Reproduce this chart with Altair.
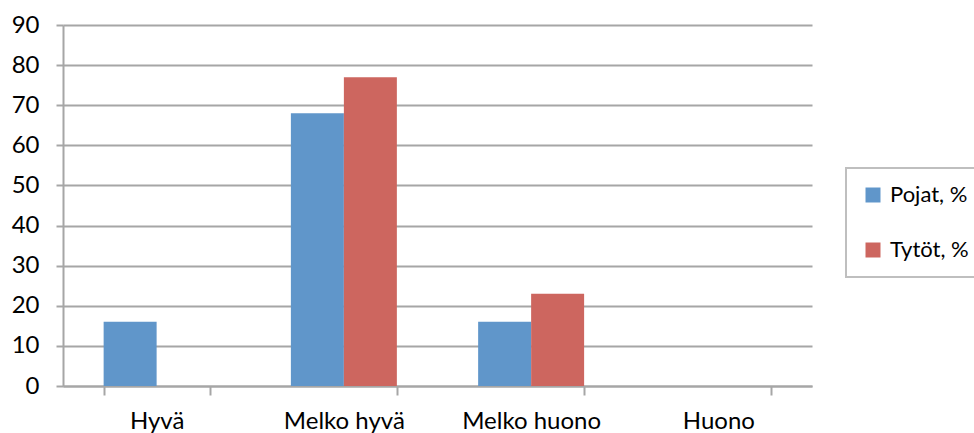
import altair as alt
import pandas as pd

categories = ["Hyvä", "Melko hyvä", "Melko huono", "Huono"]
series = ["Pojat, %", "Tytöt, %"]
pojat = [16, 68, 16, 0]
tytot = [0, 77, 23, 0]
y_ticks = [0, 10, 20, 30, 40, 50, 60, 70, 80, 90]

rows = []
for c, p, t in zip(categories, pojat, tytot):
    rows.append({"cat": c, "series": series[0], "value": p})
    rows.append({"cat": c, "series": series[1], "value": t})
df = pd.DataFrame(rows)

FONT = "Lato"
GRID = "#A6A6A6"
FS = 24

chart = alt.Chart(df).mark_bar().encode(
    x=alt.X("cat:N", sort=categories, title=None,
            scale=alt.Scale(paddingInner=0.434, paddingOuter=0.217),
            axis=alt.Axis(labelAngle=0, tickBand="extent", tickSize=9,
                          tickColor=GRID, tickWidth=2, domainColor=GRID, domainWidth=2,
                          labelFont=FONT, labelFontSize=FS, labelColor="#000000",
                          labelPadding=14, grid=False)),
    xOffset=alt.XOffset("series:N", sort=series, scale=alt.Scale(paddingInner=0, paddingOuter=0)),
    y=alt.Y("value:Q", title=None,
            scale=alt.Scale(domain=[0, 90], nice=False),
            axis=alt.Axis(values=y_ticks, tickSize=7, tickColor=GRID, tickWidth=2,
                          domainColor=GRID, domainWidth=2, gridColor=GRID, gridWidth=2,
                          labelFont=FONT, labelFontSize=FS, labelColor="#000000",
                          labelPadding=17)),
    color=alt.Color("series:N", sort=series, title=None,
                    scale=alt.Scale(domain=series, range=["#6096CA", "#CD665F"]),
                    legend=alt.Legend(orient="none", legendX=783, legendY=143,
                                      symbolType="square", symbolSize=225,
                                      symbolStrokeWidth=0,
                                      labelFont=FONT, labelFontSize=22, labelColor="#000000",
                                      labelOffset=6, rowPadding=33, padding=16,
                                      strokeColor="#BFBFBF", fillColor="#FFFFFF")),
).properties(
    width=749, height=361,
    autosize=alt.AutoSizeParams(type="none"),
    padding={"left": 63, "top": 25, "right": 162, "bottom": 47},
).configure_view(stroke=None).configure_legend(strokeWidth=2)

chart.save("out.html", embed_options={"renderer": "svg", "actions": False})
